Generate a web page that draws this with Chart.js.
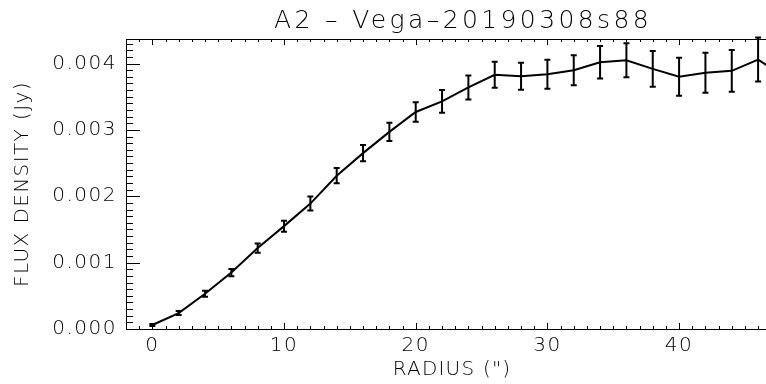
<!DOCTYPE html>
<html lang="en">
<head>
<meta charset="UTF-8">
<title>A2 - Vega-20190308s88</title>
<script src="https://cdn.jsdelivr.net/npm/chart.js"></script>
<style>
  html, body { margin: 0; padding: 0; background: #fff; }
  canvas { display: block; }
</style>
</head>
<body>
<canvas id="fluxChart" width="766" height="384"></canvas>
<script>
// values: radius in arcsec, flux density in Jy
var radius  = [0, 2, 4, 6, 8, 10, 12, 14, 16, 18, 20, 22, 24, 26, 28, 30, 32, 34, 36, 38, 40, 42, 44, 46, 48];
var flux    = [0.00006, 0.00024, 0.00053, 0.00085, 0.00122, 0.00155, 0.00189, 0.00231, 0.00265, 0.00297,
               0.00327, 0.00343, 0.00364, 0.00383, 0.00381, 0.00384, 0.00390, 0.00402, 0.00405, 0.00392,
               0.00380, 0.00386, 0.00389, 0.00406, 0.00380];
var fluxErr = [0.000015, 0.00003, 0.000045, 0.000055, 0.00007, 0.000083, 0.000105, 0.000115, 0.000123, 0.000138,
               0.000146, 0.000173, 0.00018, 0.000196, 0.000203, 0.000218, 0.000226, 0.000245, 0.000256, 0.000271,
               0.000286, 0.000301, 0.000316, 0.000331, 0.00034];

var xTicks = [0, 10, 20, 30, 40];
var yTicks = [0.000, 0.001, 0.002, 0.003, 0.004];
var yTickLabels = ['0.000', '0.001', '0.002', '0.003', '0.004'];

var titleText = 'A2 \u2013 Vega\u201320190308s88';
var xTitle = 'RADIUS (")';
var yTitle = 'FLUX DENSITY (Jy)';

var FONT = '"DejaVu Sans", sans-serif';

// error bars with small caps, like IDL's errplot
var errorBars = {
    id: 'errorBars',
    afterDatasetsDraw: function (chart) {
        var ctx = chart.ctx, xs = chart.scales.x, ys = chart.scales.y;
        ctx.save();
        ctx.strokeStyle = '#000';
        ctx.lineWidth = 2;
        for (var i = 0; i < radius.length; i++) {
            var px = xs.getPixelForValue(radius[i]);
            if (px > chart.chartArea.right + 5) continue;
            var top = ys.getPixelForValue(flux[i] + fluxErr[i]);
            var bot = ys.getPixelForValue(flux[i] - fluxErr[i]);
            ctx.beginPath();
            ctx.moveTo(px, top); ctx.lineTo(px, bot);
            ctx.moveTo(px - 3, top); ctx.lineTo(px + 3, top);
            ctx.moveTo(px - 3, bot); ctx.lineTo(px + 3, bot);
            ctx.stroke();
        }
        ctx.restore();
    }
};

// box with inward ticks and the titles
var idlAxes = {
    id: 'idlAxes',
    beforeDraw: function (chart) {
        chart.ctx.letterSpacing = '1.5px';
    },
    afterDraw: function (chart) {
        var ctx = chart.ctx, a = chart.chartArea, xs = chart.scales.x, ys = chart.scales.y;
        ctx.save();
        ctx.strokeStyle = '#000';
        ctx.lineWidth = 1;
        ctx.beginPath();
        // top axis line
        ctx.moveTo(a.left, a.top + 0.5); ctx.lineTo(a.right, a.top + 0.5);
        // x ticks, bottom and top
        for (var v = -2; v <= 47; v++) {
            var px = Math.round(xs.getPixelForValue(v)) + 0.5;
            if (px < a.left || px > a.right) continue;
            var len = (v % 10 === 0) ? 6 : 3;
            ctx.moveTo(px, a.bottom); ctx.lineTo(px, a.bottom - len);
            ctx.moveTo(px, a.top); ctx.lineTo(px, a.top + len);
        }
        // y ticks on the left
        for (var k = 0; k <= 43; k++) {
            var py = Math.round(ys.getPixelForValue(k * 0.0001)) + 0.5;
            var ylen = (k % 10 === 0) ? 14 : 7;
            ctx.moveTo(a.left, py); ctx.lineTo(a.left + ylen, py);
        }
        ctx.stroke();

        ctx.fillStyle = '#000';
        ctx.textAlign = 'center';
        ctx.textBaseline = 'alphabetic';
        ctx.font = '200 25px ' + FONT;
        ctx.letterSpacing = '3.4px';
        ctx.fillText(titleText, 463, 28);

        ctx.font = '200 20px ' + FONT;
        ctx.letterSpacing = '1.2px';
        ctx.textBaseline = 'middle';
        ctx.fillText(xTitle, 452, 370);

        ctx.letterSpacing = '1.4px';
        ctx.translate(23, 184);
        ctx.rotate(-Math.PI / 2);
        ctx.fillText(yTitle, 0, 0);
        ctx.restore();
    }
};

var points = radius.map(function (r, i) { return { x: r, y: flux[i] }; });

new Chart(document.getElementById('fluxChart'), {
    type: 'line',
    data: {
        datasets: [{
            data: points,
            borderColor: '#000',
            borderWidth: 2,
            pointRadius: 0,
            tension: 0,
            fill: false
        }]
    },
    options: {
        responsive: false,
        animation: false,
        layout: { padding: { top: 39, right: 0, bottom: 0, left: 0 } },
        plugins: { legend: { display: false }, tooltip: { enabled: false } },
        scales: {
            x: {
                type: 'linear',
                min: -2,
                max: 46.6,
                grid: { display: false, drawTicks: false },
                border: { display: true, color: '#000', width: 1 },
                afterBuildTicks: function (s) { s.ticks = xTicks.map(function (v) { return { value: v }; }); },
                afterFit: function (s) { s.height = 55; },
                ticks: {
                    autoSkip: false, maxRotation: 0, padding: 5, color: '#000',
                    font: { family: FONT, size: 20, weight: 200 },
                    callback: function (v) { return String(v); }
                }
            },
            y: {
                type: 'linear',
                min: 0,
                max: 0.00437,
                grid: { display: false, drawTicks: false },
                border: { display: true, color: '#000', width: 1 },
                afterBuildTicks: function (s) { s.ticks = yTicks.map(function (v) { return { value: v }; }); },
                afterFit: function (s) { s.width = 126; },
                ticks: {
                    padding: 9, color: '#000',
                    font: { family: FONT, size: 20, weight: 200 },
                    callback: function (v) { return yTickLabels[yTicks.indexOf(v)]; }
                }
            }
        }
    },
    plugins: [errorBars, idlAxes]
});
</script>
</body>
</html>
